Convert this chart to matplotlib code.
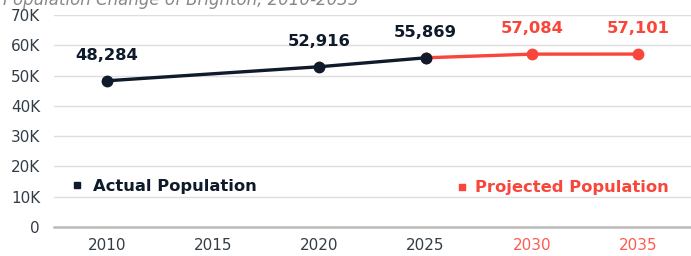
import matplotlib.pyplot as plt
from matplotlib.lines import Line2D

years_actual = [2010, 2020, 2025]
pop_actual = [48284, 52916, 55869]
years_proj = [2025, 2030, 2035]
pop_proj = [55869, 57084, 57101]
tick_years = [2010, 2015, 2020, 2025, 2030, 2035]
y_ticks = [0, 10000, 20000, 30000, 40000, 50000, 60000, 70000]
y_labels = ['0', '10K', '20K', '30K', '40K', '50K', '60K', '70K']

navy = '#0f1b2b'
red = '#f8463a'

plt.rcParams['font.family'] = ['DejaVu Sans']

fig = plt.figure(figsize=(6.91, 2.56), dpi=100)
ax = fig.add_axes([54 / 691, 1 - 227 / 256, 637 / 691, 212 / 256])

# 線
ax.plot(years_proj, pop_proj, '-o', color=red, lw=2.4, ms=7.5, zorder=3)
ax.plot(years_actual, pop_actual, '-o', color=navy, lw=2.4, ms=7.5, zorder=4)

# ラベル
for x, y in zip(years_actual, pop_actual):
    ax.annotate(f'{y:,}', (x, y), xytext=(0, 13), textcoords='offset points',
                ha='center', va='bottom', fontsize=11.8, fontweight='bold', color=navy)
for x, y in zip(years_proj[1:], pop_proj[1:]):
    ax.annotate(f'{y:,}', (x, y), xytext=(0, 13), textcoords='offset points',
                ha='center', va='bottom', fontsize=11.8, fontweight='bold', color=red)

ax.set_xlim(2007.5, 2037.5)
ax.set_ylim(0, 70000)
ax.set_yticks(y_ticks)
ax.set_yticklabels(y_labels)
ax.set_xticks(tick_years)
ax.set_xticklabels([str(y) for y in tick_years])
ax.tick_params(axis='both', length=0, labelsize=11, colors='#333d47')
ax.tick_params(axis='x', pad=8)
ax.tick_params(axis='y', pad=10)
for lbl, yr in zip(ax.get_xticklabels(), tick_years):
    lbl.set_color('#ff5a4f' if yr >= 2030 else '#333d47')

ax.grid(axis='y', color='#dddddd', lw=1)
ax.set_axisbelow(True)
for s in ['top', 'right', 'left']:
    ax.spines[s].set_visible(False)
ax.spines['bottom'].set_color('#bbbbbb')
ax.spines['bottom'].set_linewidth(1.8)

# 凡例
h1 = Line2D([], [], marker='s', color=navy, ls='', ms=5)
h2 = Line2D([], [], marker='s', color=red, ls='', ms=5)
leg1 = ax.legend([h1], ['Actual Population'], loc='center left', bbox_to_anchor=(0.0, 0.19),
                 frameon=False, handletextpad=0.5, handlelength=1,
                 prop={'weight': 'bold', 'size': 11.8})
leg1.get_texts()[0].set_color(navy)
ax.add_artist(leg1)
leg2 = ax.legend([h2], ['Projected Population'], loc='center left', bbox_to_anchor=(0.605, 0.185),
                 frameon=False, handletextpad=0.3, handlelength=1,
                 prop={'weight': 'bold', 'size': 11.8})
leg2.get_texts()[0].set_color(red)

# 切れたタイトル
fig.text(0.005, 1.0, 'Population Change of Brighton, 2010-2035', ha='left', va='center',
         fontsize=12, style='italic', color='#888888')

fig.savefig('out.png', dpi=100)
